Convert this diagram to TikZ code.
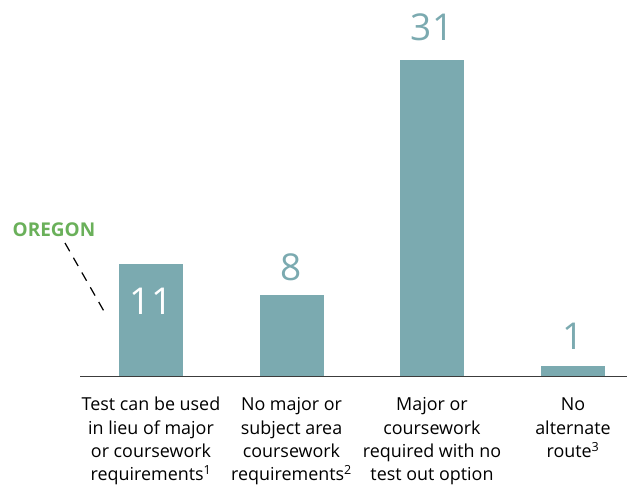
\documentclass[tikz,border=0pt]{standalone}
\usepackage{fontspec}
\setmainfont{Open Sans}
\definecolor{barc}{RGB}{123,170,176}
\definecolor{oregon}{RGB}{106,176,90}
\definecolor{axisc}{RGB}{60,60,60}
\tikzset{
  bar/.style={fill=barc, draw=none, minimum width=64pt, inner sep=0pt, anchor=south},
  val/.style={font=\fontsize{37}{37}\selectfont, text=barc, inner sep=0pt},
  cat/.style={font=\fontsize{17.9}{23.3}\selectfont, align=center, inner sep=0pt, anchor=base, text=black},
}
\begin{document}
\begin{tikzpicture}[x=1pt,y=-1pt]
\useasboundingbox (0,0) rectangle (627,487);
% bars
\node[bar, minimum height=112pt] (b1) at (151,376) {};
\node[bar, minimum height=81pt] (b2) at (291.5,376) {};
\node[bar, minimum height=316pt] (b3) at (432,376) {};
\node[bar, minimum height=10pt] (b4) at (573,376) {};
% axis
\coordinate (ax0) at (80,376.5);
\coordinate (ax1) at (627,376.5);
\draw[axisc, line width=1.5pt] (ax0) -- (ax1);
% values
\node[val, text=white] (v1) at (151,301) {11};
\node[val] (v2) at (291.5,267) {8};
\node[val] (v3) at (432,27) {31};
\node[val] (v4) at (573,336) {1};
% categories (anchor=base is the last line's baseline)
\node[cat] (c1) at (151,480.6) {Test can be used\\in lieu of major\\or coursework\\requirements\textsuperscript{1}};
\node[cat] (c2) at (291.5,480.6) {No major or\\subject area\\coursework\\requirements\textsuperscript{2}};
\node[cat] (c3) at (432,480.6) {Major or\\coursework\\required with no\\test out option};
\node[cat] (c4) at (573,457.3) {No\\alternate\\route\textsuperscript{3}};
% Oregon
\node[font=\bfseries\fontsize{19}{19}\selectfont, text=oregon, inner sep=0pt] (or) at (54,229.5) {OREGON};
\coordinate (dashstart) at (65,243);
\coordinate (dashend) at (105,313);
\draw[black, line width=1.2pt, dash pattern=on 9.5pt off 7.5pt] (dashstart) -- (dashend);
\end{tikzpicture}
\end{document}
